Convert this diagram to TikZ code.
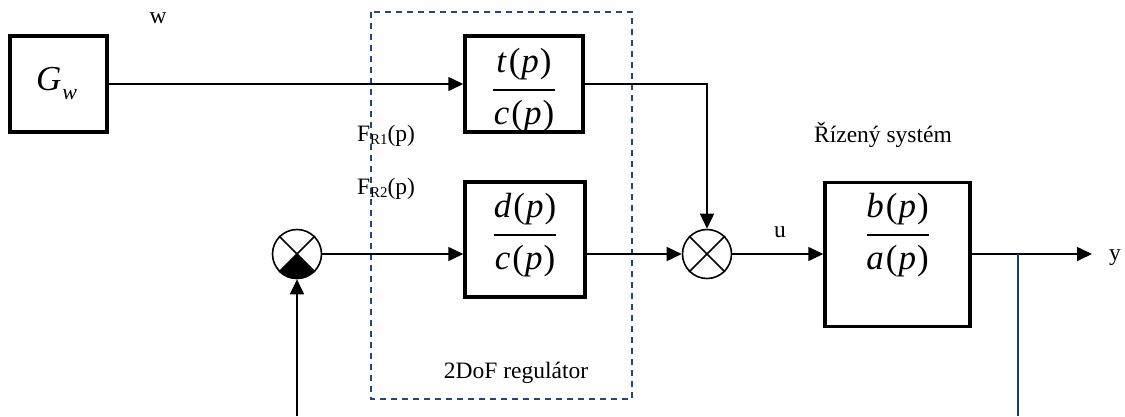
\documentclass[tikz,border=0pt]{standalone}
\usepackage{fontspec}
\setmainfont{Liberation Serif}
\usetikzlibrary{arrows.meta}
\definecolor{dashblue}{RGB}{31,73,125}
\definecolor{fbblue}{RGB}{20,60,120}
\newcommand{\ip}[1]{\textit{#1}\kern2pt(\kern1pt\textit{p}\kern1pt)}
\newcommand{\sbs}[1]{\raisebox{-3pt}{\fontsize{15}{16}\selectfont #1}}
% fraction inside a block: #1 block name, #2 numerator, #3 denominator, #4 offset of the fraction line from the block centre
\newcommand{\frc}[4]{%
  \coordinate (#1-l) at ([yshift=#4]#1.center);
  \node[ftxt] (#1-n) at ([yshift=18pt]#1-l) {\ip{#2}};
  \node[ftxt] (#1-d) at ([yshift=-34pt]#1-l) {\ip{#3}};
  \draw[line width=1.2pt] ([xshift=-31pt]#1-l) -- ([xshift=31pt]#1-l);}
\tikzset{
  blk/.style={draw, line width=3.5pt, inner sep=0pt, font=\fontsize{35}{40}\selectfont},
  ftxt/.style={anchor=base, inner sep=0pt, font=\fontsize{35}{40}\selectfont},
  sig/.style={line width=1.6pt, -{Triangle[length=15pt,width=14pt]}},
  plain/.style={line width=1.6pt},
  sumc/.style={circle, draw, line width=1.6pt, minimum size=49pt, inner sep=0pt},
  lbl/.style={font=\fontsize{23.5}{26}\selectfont, inner sep=0pt},
}
\begin{document}
\begin{tikzpicture}[x=1pt,y=-1pt]
\useasboundingbox (0,0) rectangle (1125,416);
% dashed regulator frame
\draw[dashblue, line width=1.6pt, dash pattern=on 6pt off 5pt] (371,12) rectangle (632,399);
% blocks
\node[blk, minimum width=97pt, minimum height=96pt] (gw) at (58.5,84) {\textit{G}\kern1pt\raisebox{-9pt}{\fontsize{22}{24}\selectfont\textit{w}}\kern4pt};
\node[blk, minimum width=118pt, minimum height=96pt] (tc) at (524,84) {};
\node[blk, minimum width=120pt, minimum height=115pt] (dc) at (525,239.5) {};
\node[blk, minimum width=145pt, minimum height=144pt] (ba) at (897.5,254.5) {};
\frc{tc}{t}{c}{-6pt}
\frc{dc}{d}{c}{4.5pt}
\frc{ba}{b}{a}{19.5pt}
% summing junctions
\node[sumc] (s1) at (297,254) {};
\node[sumc] (s2) at (707,254) {};
\fill (s1.center) -- (s1.225) arc[start angle=225, end angle=315, radius=24.5pt] -- cycle;
\foreach \s in {s1,s2} {
  \draw[plain] (\s.45) -- (\s.225);
  \draw[plain] (\s.135) -- (\s.315);
}
% coordinates
\coordinate (tcout) at (707,84);
\coordinate (yend) at (1092,254);
\coordinate (tap) at (1018,254);
\coordinate (tapbot) at (1018,416);
\coordinate (fbbot) at (297,416);
% connectors
\draw[sig] (gw.east |- 0,84) -- (tc.west |- 0,84);
\draw[sig] (tc.east |- 0,84) -- (tcout) -- (s2.north);
\draw[sig] (s1.east) -- (dc.west |- s1.east);
\draw[sig] (dc.east |- s2.west) -- (s2.west);
\draw[sig] (s2.east) -- (ba.west |- s2.east);
\draw[sig] (ba.east |- 0,254) -- (yend);
\draw[fbblue, line width=1.3pt] (tap) -- (tapbot);
\draw[sig] (fbbot) -- (s1.south);
% labels
\node[lbl] (lw) at (158,18) {w};
\node[lbl] (lfr1) at (386,136) {F\sbs{R1}(p)};
\node[lbl] (lfr2) at (386,189) {F\sbs{R2}(p)};
\node[lbl] (lu) at (780,232) {u};
\node[lbl] (ly) at (1115,258) {y};
\node[lbl] (lsys) at (883,135) {Řízený systém};
\node[lbl] (lreg) at (516,373) {2DoF regulátor};
\end{tikzpicture}
\end{document}
